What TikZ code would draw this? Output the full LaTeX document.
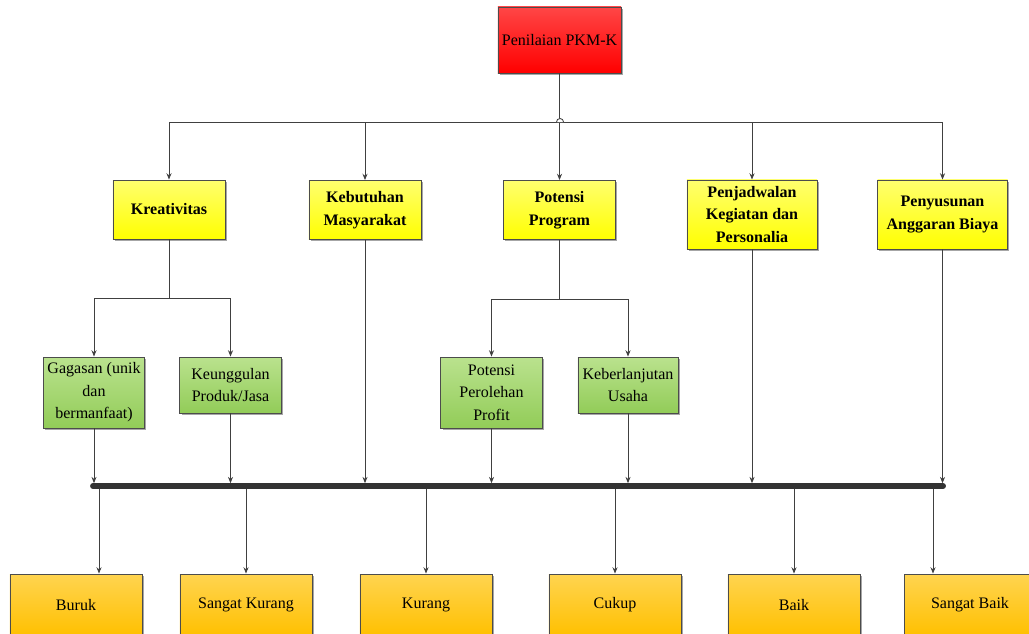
\documentclass[tikz,border=0pt]{standalone}
\usepackage{fontspec}
\setmainfont{Liberation Serif}
\usetikzlibrary{arrows.meta,shadows}

\definecolor{topred}{RGB}{255,70,70}
\definecolor{botred}{RGB}{255,0,0}
\definecolor{topyellow}{RGB}{255,255,110}
\definecolor{botyellow}{RGB}{255,255,0}
\definecolor{topgreen}{RGB}{186,226,142}
\definecolor{botgreen}{RGB}{146,204,88}
\definecolor{toporange}{RGB}{255,212,80}
\definecolor{botorange}{RGB}{255,192,0}

\tikzset{
  box/.style={shape=rectangle,draw=black!70,line width=0.6pt,align=center,inner sep=2pt,
    font=\fontsize{11.4}{16}\selectfont,
    drop shadow={shadow xshift=1.3pt,shadow yshift=-1.3pt,fill=black,opacity=0.35}},
  redbox/.style={box,top color=topred,bottom color=botred,minimum width=3.075cm,minimum height=1.65cm},
  yellowbox/.style={box,top color=topyellow,bottom color=botyellow,font=\fontsize{11.4}{16}\selectfont\bfseries,
    minimum width=2.8cm,minimum height=1.475cm},
  greenbox/.style={box,top color=topgreen,bottom color=botgreen,minimum width=2.53cm,minimum height=1.4cm},
  orangebox/.style={box,top color=toporange,bottom color=botorange,minimum width=3.3cm,minimum height=1.55cm},
  conn/.style={draw=black!75,line width=0.6pt},
  arr/.style={conn,-{Stealth[length=4.5pt,width=3.6pt]}},
  tobar/.style={arr,shorten >=2pt}
}

\begin{document}
\begin{tikzpicture}[x=0.025cm,y=-0.025cm]
\useasboundingbox (0,0) rectangle (1029,633);

\node[redbox] (penilaian) at (559.5,40) {Penilaian PKM-K};

\node[yellowbox] (kreativitas) at (169,209.5) {Kreativitas};
\node[yellowbox] (kebutuhan) at (365,210) {Kebutuhan\\Masyarakat};
\node[yellowbox] (potensi) at (559.5,210) {Potensi\\Program};
\node[yellowbox,minimum width=3.25cm,minimum height=1.725cm] (penjadwalan) at (752,214.5) {Penjadwalan\\Kegiatan dan\\Personalia};
\node[yellowbox,minimum width=3.25cm,minimum height=1.725cm] (penyusunan) at (942.5,214.5) {Penyusunan\\Anggaran Biaya};

\node[greenbox,minimum height=1.775cm] (gagasan) at (94,392.5) {Gagasan (unik\\dan\\bermanfaat)};
\node[greenbox] (keunggulan) at (230.5,385) {Keunggulan\\Produk/Jasa};
\node[greenbox,minimum height=1.775cm] (perolehan) at (491.5,392.5) {Potensi\\Perolehan\\Profit};
\node[greenbox,minimum width=2.5cm] (keberlanjutan) at (628,385) {Keberlanjutan\\Usaha};

\node[orangebox] (buruk) at (76,605) {Buruk};
\node[orangebox] (sangatkurang) at (246,605) {Sangat Kurang};
\node[orangebox] (kurang) at (426,605) {Kurang};
\node[orangebox] (cukup) at (615,605) {Cukup};
\node[orangebox] (baik) at (794,605) {Baik};
\node[orangebox] (sangatbaik) at (970,605) {Sangat Baik};

\draw[arr] (penilaian.south) -- ++(0,49) -| (kreativitas.north);
\draw[arr] (penilaian.south) -- ++(0,49) -| (kebutuhan.north);
\draw[arr] (penilaian.south) -- (potensi.north);
\draw[arr] (penilaian.south) -- ++(0,49) -| (penjadwalan.north);
\draw[arr] (penilaian.south) -- ++(0,49) -| (penyusunan.north);
\draw[conn,fill=white] (556.5,122) arc[start angle=180,end angle=0,radius=2.5pt];

\draw[arr] (kreativitas.south) -- ++(0,59) -| (gagasan.north);
\draw[arr] (kreativitas.south) -- ++(0,59) -| (keunggulan.north);
\draw[arr] (potensi.south) -- ++(0,59) -| (perolehan.north);
\draw[arr] (potensi.south) -- ++(0,59) -| (keberlanjutan.north);

\coordinate (barL) at (93,486);
\coordinate (barR) at (943,486);
\coordinate (buruk in) at ([xshift=0.575cm]buruk.north);
\coordinate (sangatbaik in) at ([xshift=-0.925cm]sangatbaik.north);

\draw[tobar] (gagasan.south) -- (gagasan.south |- barL);
\draw[tobar] (keunggulan.south) -- (keunggulan.south |- barL);
\draw[tobar] (kebutuhan.south) -- (kebutuhan.south |- barL);
\draw[tobar] (perolehan.south) -- (perolehan.south |- barL);
\draw[tobar] (keberlanjutan.south) -- (keberlanjutan.south |- barL);
\draw[tobar] (penjadwalan.south) -- (penjadwalan.south |- barL);
\draw[tobar] (penyusunan.south) -- (penyusunan.south |- barL);

\draw[arr] (barL -| buruk in) -- (buruk in);
\draw[arr] (barL -| sangatkurang.north) -- (sangatkurang.north);
\draw[arr] (barL -| kurang.north) -- (kurang.north);
\draw[arr] (barL -| cukup.north) -- (cukup.north);
\draw[arr] (barL -| baik.north) -- (baik.north);
\draw[arr] (barL -| sangatbaik in) -- (sangatbaik in);

\draw[black!80,line width=4.2pt,line cap=round] (barL) -- (barR);
\end{tikzpicture}
\end{document}
